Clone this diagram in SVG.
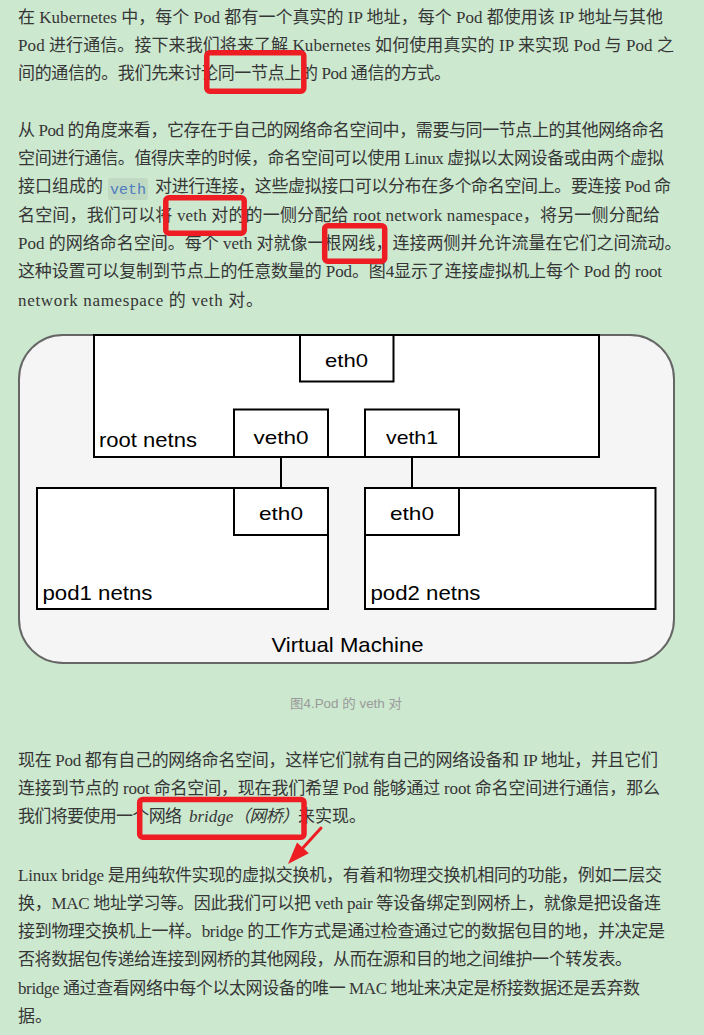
<svg xmlns="http://www.w3.org/2000/svg" width="704" height="1035" viewBox="0 0 704 1035">
<style>
.t{font-family:"Liberation Serif","Noto Sans CJK SC",serif;font-size:17px;fill:#363636}
.code{font-family:"Liberation Mono",monospace;font-size:15px;fill:#4f7cbf}
.cap{font-family:"Liberation Sans","Noto Sans CJK SC",sans-serif;font-size:13px;fill:#9a9a9a}
.box{fill:#ffffff;stroke:#000;stroke-width:2}
.lbl{font-family:"Liberation Sans",Arial,sans-serif;font-size:19px;fill:#000}
.lbl2{font-family:"Liberation Sans",Arial,sans-serif;font-size:21px;fill:#000}
.red{fill:none;stroke:#ee1d23;stroke-width:5.5}
.wire{stroke:#000;stroke-width:2;fill:none}
</style>
<rect x="0" y="0" width="704" height="1035" fill="#cce8cf"/>

<g id="para1">
<text class="t" x="18" y="23" textLength="645" lengthAdjust="spacing">在 Kubernetes 中，每个 Pod 都有一个真实的 IP 地址，每个 Pod 都使用该 IP 地址与其他</text>
<text class="t" x="18" y="51" textLength="656" lengthAdjust="spacing">Pod 进行通信。接下来我们将来了解 Kubernetes 如何使用真实的 IP 来实现 Pod 与 Pod 之</text>
<text class="t" x="18" y="79" textLength="433" lengthAdjust="spacing">间的通信的。我们先来讨论同一节点上的 Pod 通信的方式。</text>
</g>

<g id="para2">
<text class="t" x="18" y="135.5" textLength="647" lengthAdjust="spacing">从 Pod 的角度来看，它存在于自己的网络命名空间中，需要与同一节点上的其他网络命名</text>
<text class="t" x="18" y="164" textLength="646" lengthAdjust="spacing">空间进行通信。值得庆幸的时候，命名空间可以使用 Linux 虚拟以太网设备或由两个虚拟</text>
<text class="t" x="18" y="192">接口组成的</text>
<rect x="108" y="178" width="40" height="22" rx="3" fill="#bfd9c3"/>
<text class="code" x="128" y="193.5" text-anchor="middle">veth</text>
<text class="t" x="155" y="192" textLength="516" lengthAdjust="spacing">对进行连接，这些虚拟接口可以分布在多个命名空间上。要连接 Pod 命</text>
<text class="t" x="18" y="220.5" textLength="642" lengthAdjust="spacing">名空间，我们可以将 veth 对的的一侧分配给 root network namespace，将另一侧分配给</text>
<text class="t" x="18" y="249">Pod 的网络命名空间。每个 veth 对就像一根网线，连接两侧并允许流量在它们之间流动。</text>
<text class="t" x="18" y="277" textLength="644" lengthAdjust="spacing">这种设置可以复制到节点上的任意数量的 Pod。图4显示了连接虚拟机上每个 Pod 的 root</text>
<text class="t" x="18" y="305.5" textLength="245" lengthAdjust="spacing">network namespace 的 veth 对。</text>
</g>

<g id="vm">
<rect x="19" y="335" width="655" height="328" rx="44" ry="44" fill="#f5f5f5" stroke="#666" stroke-width="2"/>
<text class="lbl2" x="347.5" y="651.5" text-anchor="middle" textLength="152" lengthAdjust="spacingAndGlyphs">Virtual Machine</text>
</g>
<g id="root-netns">
<rect class="box" x="94" y="335" width="505" height="122"/>
<text class="lbl2" x="99" y="446.5" textLength="98" lengthAdjust="spacingAndGlyphs">root netns</text>
</g>
<g id="root-eth0">
<rect class="box" x="300" y="335" width="93.5" height="46.5"/>
<text class="lbl" x="346.5" y="367" text-anchor="middle" textLength="43" lengthAdjust="spacingAndGlyphs">eth0</text>
</g>
<g id="veth0">
<rect class="box" x="234" y="409.5" width="94" height="47.5"/>
<text class="lbl" x="281" y="443.5" text-anchor="middle" textLength="55" lengthAdjust="spacingAndGlyphs">veth0</text>
</g>
<g id="veth1">
<rect class="box" x="365" y="409.5" width="94" height="47.5"/>
<text class="lbl" x="412" y="443.5" text-anchor="middle" textLength="52" lengthAdjust="spacingAndGlyphs">veth1</text>
</g>
<g id="pod1-netns">
<rect class="box" x="37" y="488" width="291" height="121"/>
<text class="lbl2" x="42.5" y="599.5" textLength="110" lengthAdjust="spacingAndGlyphs">pod1 netns</text>
</g>
<g id="pod1-eth0">
<rect class="box" x="234" y="488" width="94" height="47"/>
<text class="lbl" x="281" y="519.5" text-anchor="middle" textLength="44" lengthAdjust="spacingAndGlyphs">eth0</text>
</g>
<g id="pod2-netns">
<rect class="box" x="365" y="488" width="290.5" height="121"/>
<text class="lbl2" x="370.5" y="599.5" textLength="110" lengthAdjust="spacingAndGlyphs">pod2 netns</text>
</g>
<g id="pod2-eth0">
<rect class="box" x="365" y="488" width="94" height="47"/>
<text class="lbl" x="412" y="519.5" text-anchor="middle" textLength="44" lengthAdjust="spacingAndGlyphs">eth0</text>
</g>
<g id="connectors">
<line class="wire" x1="281" y1="457" x2="281" y2="488"/>
<line class="wire" x1="412" y1="457" x2="412" y2="488"/>
</g>

<text class="cap" x="346" y="708" text-anchor="middle" textLength="112" lengthAdjust="spacingAndGlyphs">图4.Pod 的 veth 对</text>

<g id="para3">
<text class="t" x="18" y="765.5" textLength="640" lengthAdjust="spacing">现在 Pod 都有自己的网络命名空间，这样它们就有自己的网络设备和 IP 地址，并且它们</text>
<text class="t" x="18" y="793.5" textLength="642" lengthAdjust="spacing">连接到节点的 root 命名空间，现在我们希望 Pod 能够通过 root 命名空间进行通信，那么</text>
<text class="t" x="18" y="821.5" textLength="164" lengthAdjust="spacing">我们将要使用一个网络</text>
<text class="t" x="189" y="821.5" font-style="italic" fill="#111">bridge</text>
<text class="t" x="233" y="821.5" font-style="italic" fill="#111" textLength="66" lengthAdjust="spacing">（网桥）</text>
<text class="t" x="298" y="821.5">来实现。</text>
</g>

<g id="para4">
<text class="t" x="18" y="880.5" textLength="644" lengthAdjust="spacing">Linux bridge 是用纯软件实现的虚拟交换机，有着和物理交换机相同的功能，例如二层交</text>
<text class="t" x="18" y="908.5" textLength="643" lengthAdjust="spacing">换，MAC 地址学习等。因此我们可以把 veth pair 等设备绑定到网桥上，就像是把设备连</text>
<text class="t" x="18" y="937" textLength="647" lengthAdjust="spacing">接到物理交换机上一样。bridge 的工作方式是通过检查通过它的数据包目的地，并决定是</text>
<text class="t" x="18" y="965" textLength="614" lengthAdjust="spacing">否将数据包传递给连接到网桥的其他网段，从而在源和目的地之间维护一个转发表。</text>
<text class="t" x="18" y="993.5" textLength="622" lengthAdjust="spacing">bridge 通过查看网络中每个以太网设备的唯一 MAC 地址来决定是桥接数据还是丢弃数</text>
<text class="t" x="18" y="1021.5">据。</text>
</g>

<g id="annotations">
<rect class="red" x="206.8" y="52.7" width="97" height="38.6" rx="3"/>
<rect class="red" x="165.8" y="197.8" width="78.4" height="35.4" rx="3"/>
<rect class="red" x="324.7" y="225.7" width="60" height="35.6" rx="3"/>
<rect class="red" x="139.7" y="799.4" width="164.3" height="37.9" rx="3"/>
<line x1="321" y1="828" x2="301" y2="850" stroke="#ee1d23" stroke-width="3" stroke-linecap="round"/>
<polygon points="288,864 297,842.4 308.8,853.2" fill="#ee1d23"/>
</g>
</svg>
